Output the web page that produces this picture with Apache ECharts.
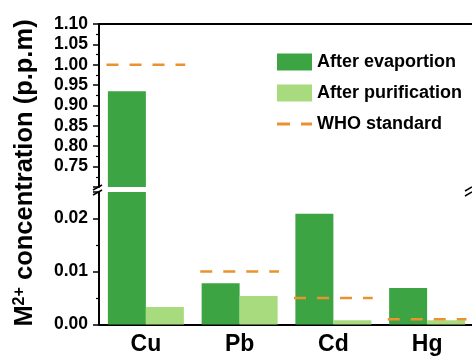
<!DOCTYPE html>
<html>
<head>
<meta charset="utf-8">
<script src="https://cdn.jsdelivr.net/npm/echarts@6/dist/echarts.min.js"></script>
<style>
  html, body { margin: 0; padding: 0; background: #fff; }
  #chart { width: 472px; height: 361px; }
</style>
</head>
<body>
<div id="chart"></div>
<script>
(function () {
var myChart = echarts.init(document.getElementById('chart'));

// data (p.p.m)
var metals = ['Cu', 'Pb', 'Cd', 'Hg'];
var afterEvap = [0.935, 0.0078, 0.0209, 0.0069];
var afterPurif = [0.0033, 0.0054, 0.0008, 0.0008];
var whoStandard = [1.0, 0.01, 0.005, 0.001];

var darkGreen = '#3da443';
var lightGreen = '#a8db7e';
var orange = '#e9922e';
var font = '"Liberation Sans", Arial, sans-serif';

var whoData = whoStandard.map(function (v, i) { return [i, v]; });

function renderWho(params, api) {
    var c = api.coord([api.value(0), api.value(1)]);
    var half = api.size([1, 0])[0] * 0.42;
    return {
        type: 'line',
        shape: { x1: c[0] - half, y1: c[1], x2: c[0] + half, y2: c[1] },
        style: { stroke: orange, lineWidth: 2.5, lineDash: [12, 11] }
    };
}

function barSeries(name, data, color, idx) {
    return {
        name: name,
        type: 'bar',
        xAxisIndex: idx,
        yAxisIndex: idx,
        data: data,
        barWidth: 38,
        barGap: 0,
        clip: true,
        itemStyle: { color: color },
        emphasis: { disabled: true }
    };
}

function whoSeries(idx) {
    return {
        name: 'WHO standard',
        type: 'custom',
        xAxisIndex: idx,
        yAxisIndex: idx,
        clip: true,
        itemStyle: { color: orange },
        renderItem: renderWho,
        encode: { x: 0, y: 1 },
        data: whoData,
        z: 5
    };
}

var yLabel = {
    fontSize: 17.5,
    fontWeight: 'bold',
    color: '#000',
    fontFamily: font,
    margin: 11,
    formatter: function (v) { return v.toFixed(2); }
};

var dashIcon = 'path://M0,0L0.01,0L0,0.01Z M0,7L13,7L13,10L0,10Z M24,7L35,7L35,10L24,10Z M35,17L34.99,17L35,16.99Z';

var option = {
    animation: false,
    backgroundColor: '#fff',
    grid: [
        { left: 99, top: 24, width: 375, height: 163, outerBoundsMode: 'none' },
        { left: 99, top: 192, width: 375, height: 132.5, outerBoundsMode: 'none' }
    ],
    legend: {
        orient: 'vertical',
        left: 272,
        top: 48,
        itemWidth: 35,
        itemHeight: 17,
        itemGap: 13,
        textStyle: { fontSize: 18, fontWeight: 'bold', color: '#000', fontFamily: font },
        data: [
            { name: 'After evaportion', icon: 'rect' },
            { name: 'After purification', icon: 'rect' },
            { name: 'WHO standard', icon: dashIcon }
        ]
    },
    xAxis: [
        {
            type: 'category',
            gridIndex: 0,
            position: 'top',
            data: metals,
            axisLine: { lineStyle: { color: '#000', width: 2 } },
            axisTick: { show: false },
            axisLabel: { show: false },
            splitLine: { show: false }
        },
        {
            type: 'category',
            gridIndex: 1,
            data: metals,
            axisLine: { lineStyle: { color: '#000', width: 2 } },
            axisTick: { alignWithLabel: true, length: 5, lineStyle: { color: '#000', width: 1.5 } },
            axisLabel: { fontSize: 23, fontWeight: 'bold', color: '#000', fontFamily: font, margin: 9 },
            splitLine: { show: false }
        }
    ],
    yAxis: [
        {
            type: 'value',
            gridIndex: 0,
            min: 0.7,
            max: 1.1,
            interval: 0.05,
            axisLine: { show: true, lineStyle: { color: '#000', width: 2 } },
            axisTick: { show: true, length: 6, lineStyle: { color: '#000', width: 1.5 } },
            minorTick: { show: true, splitNumber: 2, length: 3, lineStyle: { color: '#000', width: 1.2 } },
            splitLine: { show: false },
            axisLabel: Object.assign({ showMinLabel: false }, yLabel)
        },
        {
            type: 'value',
            gridIndex: 1,
            min: 0,
            max: 0.025,
            interval: 0.01,
            axisLine: { show: true, lineStyle: { color: '#000', width: 2 } },
            axisTick: { show: true, length: 6, lineStyle: { color: '#000', width: 1.5 } },
            minorTick: { show: true, splitNumber: 2, length: 3, lineStyle: { color: '#000', width: 1.2 } },
            splitLine: { show: false },
            axisLabel: Object.assign({ showMaxLabel: false }, yLabel)
        }
    ],
    graphic: [
        {
            type: 'text',
            x: 25,
            y: 173,
            rotation: Math.PI / 2,
            style: {
                text: '{m|M}{s|2+}{m| concentration (p.p.m)}',
                align: 'center',
                verticalAlign: 'middle',
                fill: '#000',
                rich: {
                    m: { fontSize: 25.5, fontWeight: 'bold', fontFamily: font, fill: '#000' },
                    s: { fontSize: 16, fontWeight: 'bold', fontFamily: font, fill: '#000', verticalAlign: 'top' }
                }
            }
        },
        { type: 'line', shape: { x1: 93, y1: 190, x2: 102, y2: 185 }, style: { stroke: '#000', lineWidth: 1.5 } },
        { type: 'line', shape: { x1: 93, y1: 195, x2: 102, y2: 190 }, style: { stroke: '#000', lineWidth: 1.5 } },
        { type: 'line', shape: { x1: 465, y1: 191, x2: 472, y2: 187 }, style: { stroke: '#000', lineWidth: 1.5 } },
        { type: 'line', shape: { x1: 465, y1: 196, x2: 472, y2: 192 }, style: { stroke: '#000', lineWidth: 1.5 } }
    ],
    series: [
        barSeries('After evaportion', afterEvap, darkGreen, 0),
        barSeries('After purification', afterPurif, lightGreen, 0),
        whoSeries(0),
        barSeries('After evaportion', afterEvap, darkGreen, 1),
        barSeries('After purification', afterPurif, lightGreen, 1),
        whoSeries(1)
    ]
};

myChart.setOption(option);
window.addEventListener('resize', function () {
    myChart.resize();
});
})();
</script>
</body>
</html>
